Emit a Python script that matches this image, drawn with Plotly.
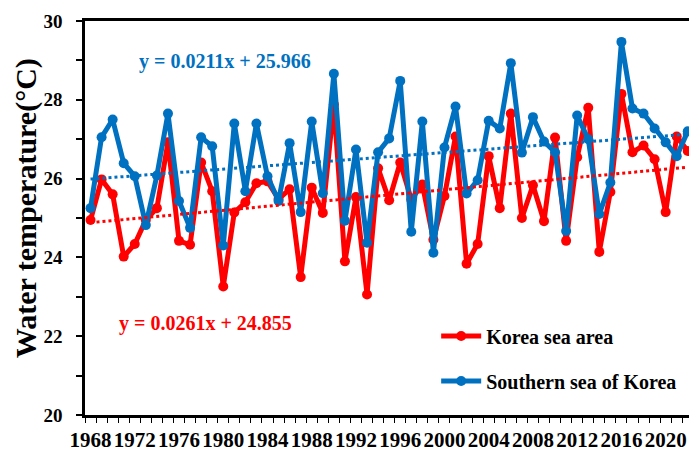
import plotly.graph_objects as go

# Annual mean water temperature, 1968-2022
years = list(range(1968, 2023))

korea_sea = [
    24.95, 25.98, 25.60, 24.02, 24.34, 24.95, 25.25, 26.92, 24.42, 24.32,
    26.41, 25.68, 23.26, 25.14, 25.40, 25.88, 25.93, 25.48, 25.73, 23.50,
    25.77, 25.13, 27.88, 23.90, 25.53, 23.06, 26.26, 25.45, 26.41, 25.47,
    25.85, 24.45, 25.56, 27.07, 23.84, 24.34, 26.57, 25.25, 27.65, 25.00,
    25.83, 24.92, 27.04, 24.42, 26.54, 27.80, 24.14, 25.66, 28.15, 26.67,
    26.84, 26.49, 25.15, 27.07, 26.70,
]

southern_sea = [
    25.25, 27.05, 27.50, 26.39, 26.06, 24.82, 26.08, 27.65, 25.43, 24.75,
    27.05, 26.82, 24.30, 27.40, 25.68, 27.40, 26.06, 25.43, 26.90, 25.15,
    27.45, 25.63, 28.66, 24.93, 26.74, 24.37, 26.67, 27.02, 28.48, 24.65,
    27.45, 24.12, 26.79, 27.83, 25.62, 25.96, 27.47, 27.27, 28.93, 26.66,
    27.56, 26.94, 26.67, 24.67, 27.60, 27.00, 25.10, 25.90, 29.47, 27.78,
    27.65, 27.27, 26.92, 26.57, 27.20,
]

# Linear trend coefficients (x = 1, 2, ... counted from 1968)
korea_slope, korea_icept = 0.0261, 24.855
south_slope, south_icept = 0.0211, 25.966

x_tick_years = list(range(1968, 2021, 4))
y_ticks = [20, 22, 24, 26, 28, 30]

RED = "#FF0000"
BLUE = "#0070C0"
FONT = "Liberation Serif"

idx = list(range(1, len(years) + 1))
korea_trend = [korea_slope * i + korea_icept for i in idx]
south_trend = [south_slope * i + south_icept for i in idx]

fig = go.Figure()

fig.add_trace(go.Scatter(
    x=years, y=korea_sea, name="Korea sea area",
    mode="lines+markers", legendgroup="a", legendrank=1,
    line=dict(color=RED, width=5), marker=dict(color=RED, size=10),
    cliponaxis=False,
))
fig.add_trace(go.Scatter(
    x=years, y=southern_sea, name="Southern sea of Korea",
    mode="lines+markers", legendgroup="b", legendrank=2,
    line=dict(color=BLUE, width=5), marker=dict(color=BLUE, size=10),
    cliponaxis=False,
))
fig.add_trace(go.Scatter(
    x=years, y=korea_trend, mode="lines", showlegend=False,
    line=dict(color=RED, width=3, dash="dot"), hoverinfo="skip",
))
fig.add_trace(go.Scatter(
    x=years, y=south_trend, mode="lines", showlegend=False,
    line=dict(color=BLUE, width=3, dash="dot"), hoverinfo="skip",
))

fig.add_annotation(
    x=1980.2, y=28.96, xref="x", yref="y", showarrow=False,
    text=f"<b>y = {south_slope}x + {south_icept}</b>",
    font=dict(family=FONT, size=20, color=BLUE),
)
fig.add_annotation(
    x=1978.4, y=22.32, xref="x", yref="y", showarrow=False,
    text=f"<b>y = {korea_slope}x + {korea_icept}</b>",
    font=dict(family=FONT, size=20, color=RED),
)

# Y-axis title
fig.add_annotation(
    x=-0.0977, y=0.525, xref="paper", yref="paper", showarrow=False,
    text="<b>Water temperature(°C)</b>", textangle=-90,
    xanchor="center", yanchor="middle",
    font=dict(family=FONT, size=30, color="black"),
)

fig.update_layout(
    width=689, height=452,
    margin=dict(l=85, r=0, t=21, b=35),
    paper_bgcolor="white", plot_bgcolor="white",
    font=dict(family=FONT, color="black"),
    showlegend=True,
    legend=dict(
        x=0.5814, y=0.25, xanchor="left", yanchor="top",
        font=dict(family=FONT, size=20, color="black", weight="bold"),
        bgcolor="rgba(0,0,0,0)", tracegroupgap=16, itemwidth=40,
    ),
    xaxis=dict(
        range=[1967.5, 2022.11],
        tickmode="array", tickvals=x_tick_years,
        ticktext=[f"<b>{y}</b>" for y in x_tick_years],
        tickangle=0, ticks="",
        tickfont=dict(family=FONT, size=21, color="black"),
        ticklabelstandoff=4,
        showline=True, linecolor="black", linewidth=2.5, mirror=True,
        showgrid=False, zeroline=False,
        minor=dict(ticks="outside", tick0=1967.5, dtick=1, ticklen=5,
                   tickcolor="black", tickwidth=1.2, showgrid=False),
    ),
    yaxis=dict(
        range=[20, 30],
        tickmode="array", tickvals=y_ticks,
        ticktext=[f"<b>{v}</b>" for v in y_ticks],
        ticks="outside", ticklen=6, tickwidth=1.5, tickcolor="black",
        tickfont=dict(family=FONT, size=19, color="black"),
        ticklabelstandoff=10,
        showline=True, linecolor="black", linewidth=2.5, mirror=True,
        showgrid=False, zeroline=False,
        minor=dict(ticks="outside", dtick=1, ticklen=6, tickwidth=1.5,
                   tickcolor="black", showgrid=False),
        automargin=False,
    ),
)

fig.write_html("out.html")
